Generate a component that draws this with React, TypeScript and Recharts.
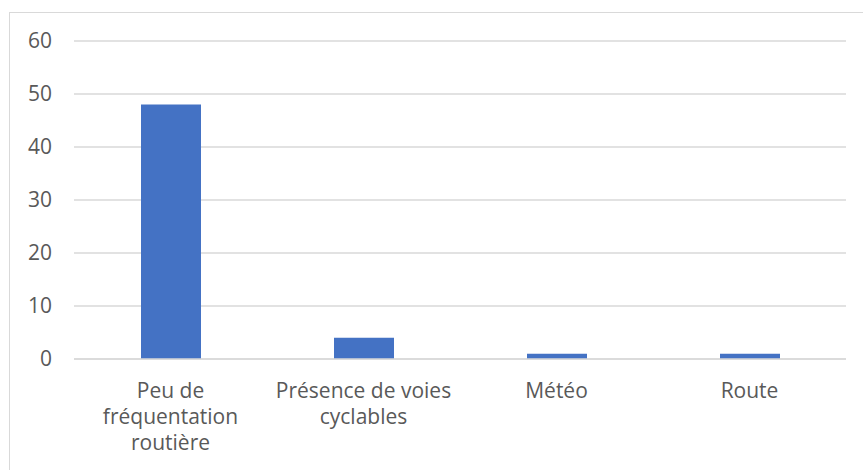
import { BarChart, Bar, XAxis, YAxis, CartesianGrid } from "recharts";

const categories = ["Peu de\nfréquentation\nroutière", "Présence de voies\ncyclables", "Météo", "Route"];
const counts = [48, 4, 1, 1];
const yTicks = [0, 10, 20, 30, 40, 50, 60];

const data = categories.map((name, i) => ({ name, value: counts[i] }));

const FONT = "'Open Sans', Lato, sans-serif";
const TEXT = "#595959";
const GRID = "#d9d9d9";

function CategoryTick(props: any) {
  const { x, y, payload } = props;
  const lines = String(payload.value).split("\n");
  return (
    <text x={x} y={y} textAnchor="middle" fill={TEXT} fontFamily={FONT} fontSize={21}>
      {lines.map((line, i) => (
        <tspan key={i} x={x} dy={i === 0 ? 39 : 26}>
          {line}
        </tspan>
      ))}
    </text>
  );
}

export default function App() {
  return (
    <div style={{ position: "absolute", left: 0, top: 0, width: 863, height: 470, background: "#fff", overflow: "hidden" }}>
      <div
        style={{
          position: "absolute",
          left: 9,
          top: 12,
          width: 870,
          height: 480,
          borderLeft: `1px solid ${GRID}`,
          borderTop: `1px solid ${GRID}`,
        }}
      />
      <div style={{ position: "absolute", left: 0, top: 0 }}>
        <BarChart width={863} height={470} data={data} margin={{ top: 41, right: 17, bottom: 0, left: 0 }} barSize={60}>
          <CartesianGrid vertical={false} stroke={GRID} strokeWidth={1.5} />
          <XAxis
            dataKey="name"
            interval={0}
            tickLine={false}
            tickSize={0}
            tickMargin={0}
            axisLine={{ stroke: GRID, strokeWidth: 1.5 }}
            tick={<CategoryTick />}
            height={111}
          />
          <YAxis
            domain={[0, 60]}
            ticks={yTicks}
            width={74}
            axisLine={false}
            tickLine={false}
            tickMargin={16}
            tick={{ fill: TEXT, fontFamily: FONT, fontSize: 21 }}
          />
          <Bar dataKey="value" fill="#4472C4" isAnimationActive={false} />
        </BarChart>
      </div>
    </div>
  );
}
